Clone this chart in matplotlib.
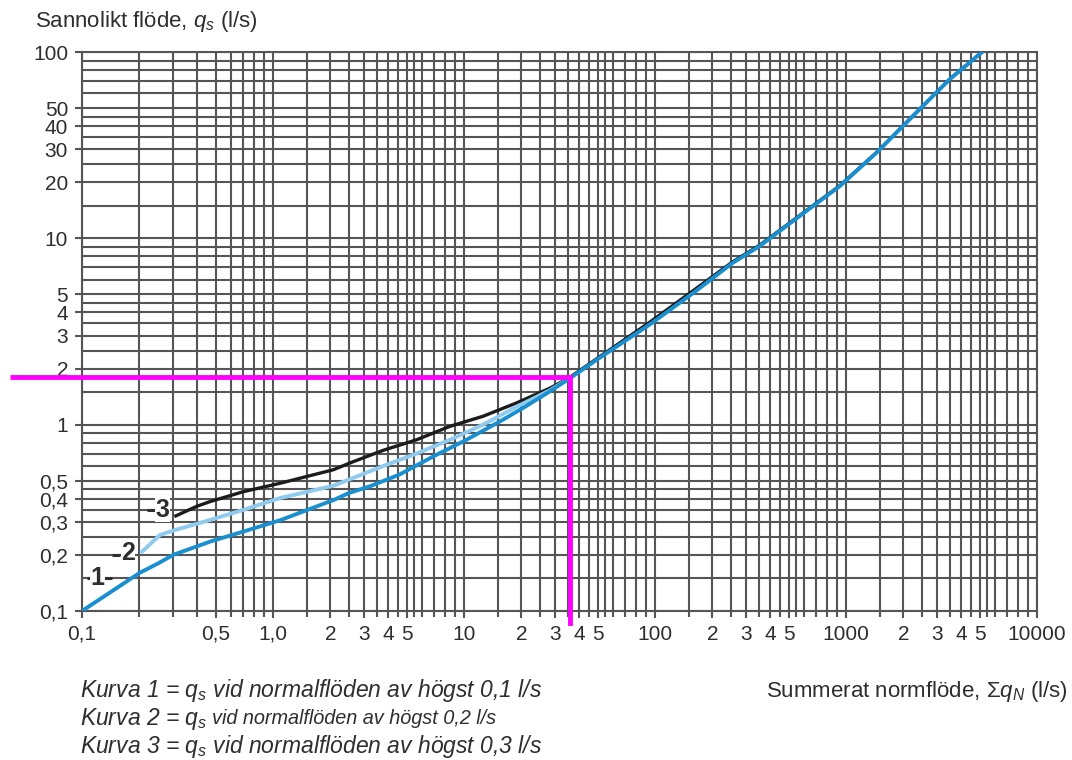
import numpy as np
import matplotlib
matplotlib.use("Agg")
import matplotlib.pyplot as plt
import matplotlib.transforms as mtransforms

plt.rcParams['font.family'] = ['Liberation Sans', 'DejaVu Sans']
plt.rcParams['mathtext.fontset'] = 'custom'
plt.rcParams['mathtext.rm'] = 'Liberation Sans'
plt.rcParams['mathtext.it'] = 'Liberation Sans:italic'

# curve data (x = summerat normflöde, y = sannolikt flöde)
kurva1_x = [0.1, 0.2, 0.25, 0.3, 0.47, 0.7, 1.1, 2.1, 2.5, 3.2, 4.6, 6.9, 10.3, 15.4,
            20.4, 28.2, 36, 51.5, 94, 159, 256, 354, 574, 930, 1450, 2340, 3500, 5140]
kurva1_y = [0.1, 0.16, 0.18, 0.2, 0.236, 0.267, 0.308, 0.396, 0.43, 0.466, 0.54, 0.675, 0.83, 1.04,
            1.23, 1.51, 1.78, 2.29, 3.45, 5.1, 7.4, 9.1, 13.2, 19.1, 28.9, 47.4, 71.6, 99.6]

kurva2_x = [0.206, 0.256, 0.307, 0.468, 0.7, 1.09, 2.07, 3.78, 5.65, 8.45, 12.6, 18.9, 28.2, 36]
kurva2_y = [0.208, 0.256, 0.272, 0.308, 0.349, 0.404, 0.47, 0.6, 0.7, 0.83, 1.0, 1.25, 1.53, 1.79]

kurva3_x = [0.31, 0.4, 0.47, 0.7, 1.1, 2.07, 2.6, 3.8, 5.65, 8.45, 12.6, 18.9, 28.2, 36, 51.5,
            94, 159, 256, 354, 574, 930, 1450, 2340, 3500, 5140]
kurva3_y = [0.324, 0.365, 0.387, 0.437, 0.486, 0.573, 0.63, 0.73, 0.83, 0.98, 1.11, 1.31, 1.57, 1.8,
            2.32, 3.55, 5.25, 7.5, 9.2, 13.3, 19.2, 29, 47.5, 71.6, 99.6]

# example reading (magenta lines)
avlast_x = 36
avlast_y = 1.8

x_ticks = [0.1, 0.5, 1, 2, 3, 4, 5, 10, 20, 30, 40, 50, 100, 200, 300, 400, 500,
           1000, 2000, 3000, 4000, 5000, 10000]
x_labels = ['0,1', '0,5', '1,0', '2', '3', '4', '5', '10', '2', '3', '4', '5', '100',
            '2', '3', '4', '5', '1000', '2', '3', '4', '5', '10000']
y_ticks = [0.1, 0.2, 0.3, 0.4, 0.5, 1, 2, 3, 4, 5, 10, 20, 30, 40, 50, 100]
y_labels = ['0,1', '0,2', '0,3', '0,4', '0,5', '1', '2', '3', '4', '5',
            '10', '20', '30', '40', '50', '100']

# grid steps inside each decade of the printed nomogram
x_steps_first = [1, 2, 3, 4, 5, 6, 7, 8, 9]
x_steps = [1, 1.5, 2, 2.5, 3, 3.5, 4, 4.5, 5, 5.5, 6, 7, 8, 9]
y_steps = [1, 1.5, 2, 2.5, 3, 3.5, 4, 4.5, 5, 6, 7, 8, 9]

x_grid = [s * 0.1 for s in x_steps_first]
for dec in [1, 10, 100, 1000]:
    x_grid += [s * dec for s in x_steps]
x_grid.append(10000)
y_grid = []
for dec in [0.1, 1, 10]:
    y_grid += [s * dec for s in y_steps]
y_grid.append(100)

# curve numbers: label position and leader dashes
etiketter = [
    ('1', (0.12, 0.15), [(0.106, 0.113), (0.129, 0.143)], 0.15),
    ('2', (0.174, 0.206), [(0.144, 0.158)], 0.2),
    ('3', (0.265, 0.35), [(0.219, 0.242)], 0.35),
]

W, H = 1072, 760
fig = plt.figure(figsize=(W / 100, H / 100), dpi=100)
left, right, bottom, top = 82, 1037, 611, 52
ax = fig.add_axes([left / W, 1 - bottom / H, (right - left) / W, (bottom - top) / H])
ax.set_xscale('log')
ax.set_yscale('log')
ax.set_xlim(0.1, 10000)
ax.set_ylim(0.1, 100)

gridc = '#555555'
txtc = '#2e2e2e'
ax.set_xticks(x_grid, minor=True)
ax.set_yticks(y_grid, minor=True)
ax.set_xticks(x_ticks, x_labels)
ax.set_yticks(y_ticks, y_labels)
ax.xaxis.set_minor_formatter(plt.NullFormatter())
ax.yaxis.set_minor_formatter(plt.NullFormatter())
ax.grid(which='both', color=gridc, linewidth=1.5)
ax.tick_params(axis='both', which='major', direction='out', length=5, width=1.5,
               color=gridc, labelsize=15, labelcolor=txtc, pad=5)
ax.tick_params(axis='x', which='minor', direction='out', length=4, width=1.5, color=gridc)
ax.tick_params(axis='y', which='minor', length=0)
for sp in ax.spines.values():
    sp.set_color(gridc)
    sp.set_linewidth(1.5)

ax.plot(kurva3_x, kurva3_y, color='#1c1c1c', linewidth=2.4, zorder=3)
ax.plot(kurva2_x, kurva2_y, color='#8ecbee', linewidth=2.8, zorder=4)
ax.plot(kurva1_x, kurva1_y, color='#1a8fd0', linewidth=2.8, zorder=5)

for num, pos, dashes, yd in etiketter:
    ax.text(pos[0], pos[1], num, ha='center', va='center', fontsize=18, fontweight='bold',
            color=txtc, zorder=6,
            bbox=dict(boxstyle='square,pad=0.02', fc='white', ec='none'))
    for x0, x1 in dashes:
        ax.plot([x0, x1], [yd, yd], color=txtc, linewidth=2.2, zorder=5,
                solid_capstyle='butt')

# magenta reading lines
mag = '#ff00ff'
tr_h = mtransforms.blended_transform_factory(ax.transAxes, ax.transData)
tr_v = mtransforms.blended_transform_factory(ax.transData, ax.transAxes)
x_frac = (np.log10(avlast_x) + 1) / 5
ax.plot([(10 - left) / (right - left), x_frac], [avlast_y, avlast_y], transform=tr_h,
        color=mag, linewidth=3.5, clip_on=False, zorder=7, solid_capstyle='butt')
ax.plot([avlast_x, avlast_x], [-(623 - bottom) / (bottom - top), (np.log10(avlast_y) + 1) / 3],
        transform=tr_v, color=mag, linewidth=3.5, clip_on=False, zorder=7,
        solid_capstyle='projecting')

fig.text(35 / W, 1 - 22 / H, 'Sannolikt flöde, $q_s$ (l/s)', fontsize=16, color=txtc,
         va='center', ha='left')
fig.text(1068 / W, 1 - 692 / H, 'Summerat normflöde, Σ$q_N$ (l/s)', fontsize=16, color=txtc,
         va='center', ha='right')

fig.text(80 / W, 1 - 691 / H, 'Kurva 1 = $q_s$ vid normalflöden av högst 0,1 l/s',
         fontsize=16.5, style='italic', color=txtc, va='center')
t2 = fig.text(80 / W, 1 - 719 / H, 'Kurva 2 = $q_s$', fontsize=16.5, style='italic',
              color=txtc, va='center')
fig.canvas.draw()
bb = t2.get_window_extent(fig.canvas.get_renderer())
fig.text((bb.x1 + 5) / W, 1 - 719 / H, 'vid normalflöden av högst 0,2 l/s', fontsize=14.3,
         style='italic', color=txtc, va='center')
fig.text(80 / W, 1 - 747 / H, 'Kurva 3 = $q_s$ vid normalflöden av högst 0,3 l/s',
         fontsize=16.5, style='italic', color=txtc, va='center')

fig.savefig('out.png', dpi=100)
